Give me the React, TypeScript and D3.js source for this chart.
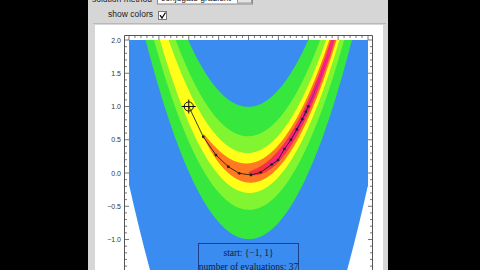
import React, { useMemo } from 'react';
import * as d3 from 'd3';

// ---- data ----
const xDomain = [-2, 2];
const yDomain = [-1.5, 2];
const contourLevels = [0.03, 0.12, 0.5, 1, 3.1, 10, 31.6, 100, 1750];
const bandColors = ['#9a2a8c', '#d8208c', '#ff2288', '#f23440', '#ff7a20', '#ffff1a', '#80f530', '#36e83e', '#3a8cf0', '#ffffff'];
const pathX = [-1, -0.757, -0.544, -0.338, -0.154, 0.042, 0.204, 0.388, 0.494, 0.6, 0.71, 0.81, 0.9, 0.96, 1];
const pathY = [1, 0.544, 0.27, 0.094, -0.005, -0.03, 0.01, 0.13, 0.195, 0.36, 0.5, 0.656, 0.81, 0.92, 1];
const yTickValues = [2, 1.5, 1, 0.5, 0, -0.5, -1];
const yTickLabels = ['2.0', '1.5', '1.0', '0.5', '0.0', '−0.5', '−1.0'];
const startLabel = 'start: {−1, 1}';
const evalLabel = 'number of evaluations: 37';
const methodLabel = 'solution method';
const methodValue = 'conjugate gradient';
const colorsLabel = 'show colors';

const rosen = (x: number, y: number) => (1 - x) * (1 - x) + 100 * (y - x * x) * (y - x * x);

export default function App() {
  const xs = d3.scaleLinear().domain(xDomain).range([129, 368]);
  const ys = d3.scaleLinear().domain([0, 2]).range([173, 40]);

  const paths = useMemo(() => {
    const n = 480, m = 460;
    const vals = new Float64Array(n * m);
    for (let j = 0; j < m; j++) {
      const yv = yDomain[1] - ((j + 0.5) / m) * (yDomain[1] - yDomain[0]);
      for (let i = 0; i < n; i++) {
        const xv = xDomain[0] + ((i + 0.5) / n) * (xDomain[1] - xDomain[0]);
        vals[i + j * n] = rosen(xv, yv);
      }
    }
    const tr = d3.geoTransform({
      point(px: number, py: number) {
        const xv = xDomain[0] + (px / n) * (xDomain[1] - xDomain[0]);
        const yv = yDomain[1] - (py / m) * (yDomain[1] - yDomain[0]);
        (this as any).stream.point(xs(xv), ys(yv));
      },
    });
    const gp = d3.geoPath(tr);
    const c = d3.contours().size([n, m]);
    return contourLevels.map((lv) => gp(c.contour(Array.from(vals), lv) as any) || '');
  }, []);

  const line = d3.line<number>().x((_, i) => xs(pathX[i])).y((_, i) => ys(pathY[i]));
  const lineD = line(pathX) || '';

  const yMinor = d3.range(-15, 21).map((k) => k / 10);
  const xMinor = d3.range(-20, 21).map((k) => k / 10);
  const isMajor = (v: number) => Math.abs(v * 2 - Math.round(v * 2)) < 1e-6;

  const L = 124.5, R = 372.5, T = 35.5;
  const sx = xs(pathX[0]), sy = ys(pathY[0]);

  return (
    <svg width={480} height={270} style={{ position: 'absolute', left: 0, top: 0 }}>
      <rect x={0} y={0} width={480} height={270} fill="#000" />
      <rect x={88} y={0} width={300} height={270} fill="#d6d6d6" />
      {/* controls */}
      <text x={152} y={2} textAnchor="end" fontFamily="Liberation Sans, Arial, sans-serif" fontSize={8.5} fill="#222">{methodLabel}</text>
      <rect x={157.5} y={-12} width={95} height={16} fill="#fff" stroke="#8a8a8a" />
      <text x={161} y={0.5} fontFamily="Liberation Sans, Arial, sans-serif" fontSize={8.5} fill="#222">{methodValue}</text>
      <rect x={237.5} y={-11} width={14} height={14} fill="#e4e4e4" stroke="#9a9a9a" />
      <text x={153} y={17} textAnchor="end" fontFamily="Liberation Sans, Arial, sans-serif" fontSize={8.5} fill="#222">{colorsLabel}</text>
      <rect x={158.5} y={11.5} width={8} height={8} fill="#fff" stroke="#777" />
      <path d="M160,15.2 L162,18 L165.5,12.5" fill="none" stroke="#111" strokeWidth={1.3} />
      {/* white panel */}
      <line x1={93} x2={386} y1={23.5} y2={23.5} stroke="#b8b8b8" />
      <rect x={95} y={25} width={288} height={250} fill="#fff" />
      {/* contours */}
      <defs>
        <clipPath id="plotclip">
          <rect x={129} y={40} width={239} height={240} />
        </clipPath>
      </defs>
      <g clipPath="url(#plotclip)">
        <rect x={129} y={40} width={239} height={240} fill={bandColors[0]} />
        {paths.map((d, i) => (
          <path key={i} d={d} fill={bandColors[i + 1]} />
        ))}
        <path d={lineD} fill="none" stroke="#111" strokeWidth={0.8} />
        {pathX.slice(1).map((v, i) => (
          <circle key={i} cx={xs(v)} cy={ys(pathY[i + 1])} r={1.4} fill="#222" />
        ))}
        <circle cx={sx} cy={sy} r={4.6} fill="none" stroke="#111" strokeWidth={1} />
        <line x1={sx - 7} x2={sx + 7} y1={sy} y2={sy} stroke="#111" strokeWidth={1} />
        <line x1={sx} x2={sx} y1={sy - 7} y2={sy + 7} stroke="#111" strokeWidth={1} />
      </g>
      {/* frame */}
      <path d={`M${L},280 V${T} H${R} V280`} fill="none" stroke="#555" strokeWidth={1} />
      {yMinor.map((v, i) => {
        const yy = ys(v);
        const len = isMajor(v) ? 4.5 : 2.5;
        return (
          <g key={'y' + i}>
            <line x1={L} x2={L + len} y1={yy} y2={yy} stroke="#555" strokeWidth={0.8} />
            <line x1={R} x2={R - len} y1={yy} y2={yy} stroke="#555" strokeWidth={0.8} />
          </g>
        );
      })}
      {xMinor.map((v, i) => {
        const xx = xs(v);
        const len = isMajor(v) ? 4.5 : 2.5;
        return <line key={'x' + i} x1={xx} x2={xx} y1={T} y2={T + len} stroke="#555" strokeWidth={0.8} />;
      })}
      {yTickValues.map((v, i) => (
        <text key={'l' + i} x={121} y={ys(v) + 2.5} textAnchor="end" fontFamily="Liberation Sans, Arial, sans-serif" fontSize={7} fill="#333">
          {yTickLabels[i]}
        </text>
      ))}
      {/* info box */}
      <rect x={198.5} y={243.5} width={100} height={40} fill="#3a8cf0" stroke="#1d3f8a" strokeWidth={1} />
      <text x={248.5} y={255.5} textAnchor="middle" fontFamily="Liberation Serif, Times New Roman, serif" fontSize={9.5} fill="#111a3a">{startLabel}</text>
      <text x={248.5} y={269.5} textAnchor="middle" fontFamily="Liberation Serif, Times New Roman, serif" fontSize={9.5} fill="#111a3a">{evalLabel}</text>
    </svg>
  );
}
